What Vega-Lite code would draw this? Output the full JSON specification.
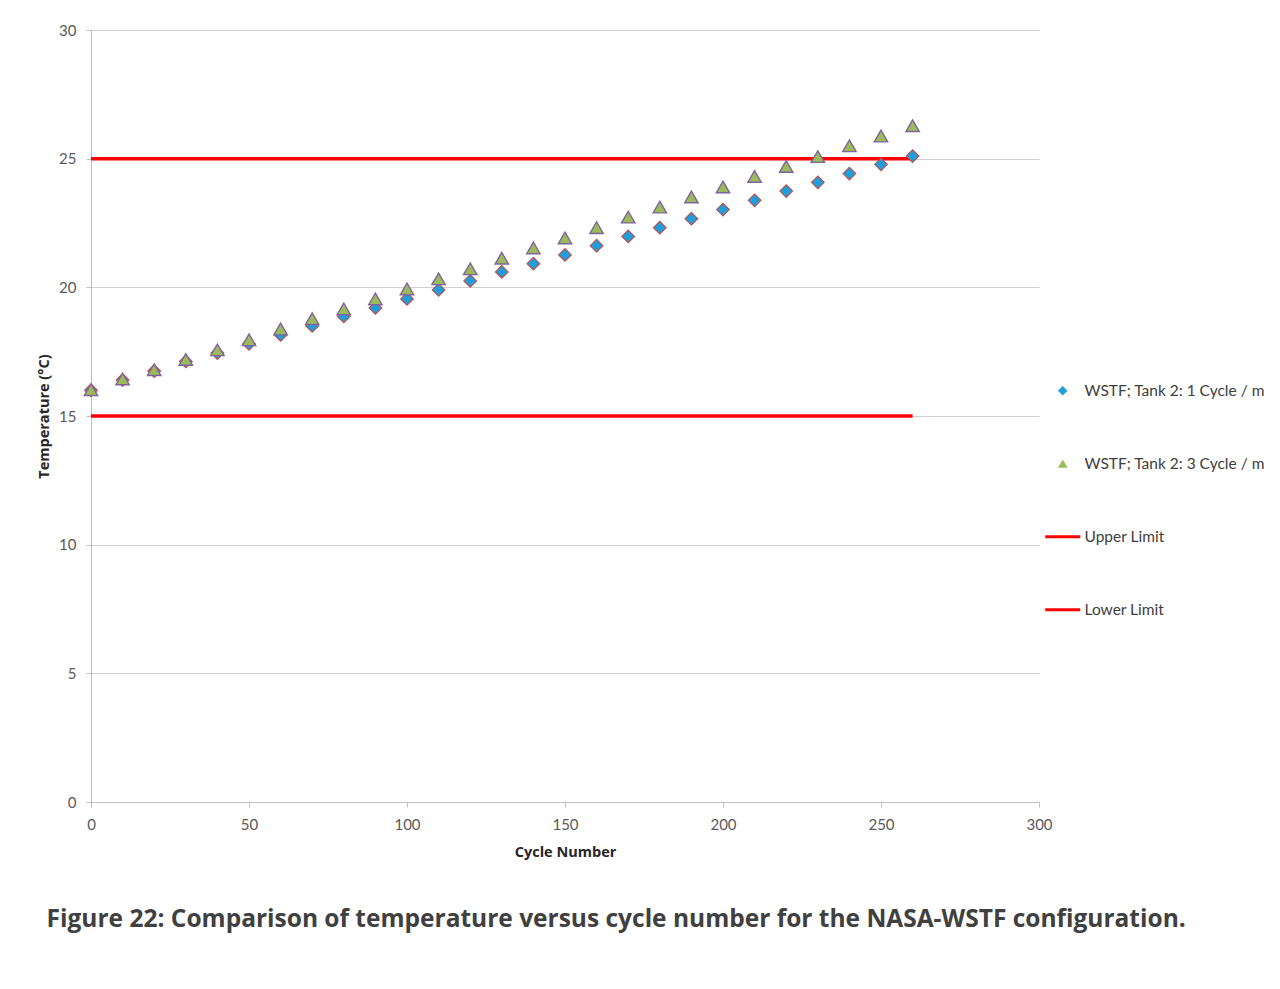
{
  "$schema": "https://vega.github.io/schema/vega-lite/v6.json",
  "autosize": "none",
  "width": 948,
  "height": 772,
  "padding": {"left": 91, "top": 30, "right": 241, "bottom": 187},
  "background": "white",
  "config": {"view": {"stroke": null}, "font": "Lato"},
  "title": {"text": "Figure 22: Comparison of temperature versus cycle number for the NASA-WSTF configuration.", "orient": "bottom", "anchor": "start", "dx": 10, "offset": 49, "fontSize": 24.5, "font": "Open Sans", "fontWeight": "bold", "color": "#404040"},
  "data": {"values": [
    {"series": "WSTF; Tank 2: 1 Cycle / m", "cycle": 0, "temp": 16.0},
    {"series": "WSTF; Tank 2: 1 Cycle / m", "cycle": 10, "temp": 16.4},
    {"series": "WSTF; Tank 2: 1 Cycle / m", "cycle": 20, "temp": 16.75},
    {"series": "WSTF; Tank 2: 1 Cycle / m", "cycle": 30, "temp": 17.12},
    {"series": "WSTF; Tank 2: 1 Cycle / m", "cycle": 40, "temp": 17.45},
    {"series": "WSTF; Tank 2: 1 Cycle / m", "cycle": 50, "temp": 17.8},
    {"series": "WSTF; Tank 2: 1 Cycle / m", "cycle": 60, "temp": 18.15},
    {"series": "WSTF; Tank 2: 1 Cycle / m", "cycle": 70, "temp": 18.5},
    {"series": "WSTF; Tank 2: 1 Cycle / m", "cycle": 80, "temp": 18.87},
    {"series": "WSTF; Tank 2: 1 Cycle / m", "cycle": 90, "temp": 19.2},
    {"series": "WSTF; Tank 2: 1 Cycle / m", "cycle": 100, "temp": 19.55},
    {"series": "WSTF; Tank 2: 1 Cycle / m", "cycle": 110, "temp": 19.9},
    {"series": "WSTF; Tank 2: 1 Cycle / m", "cycle": 120, "temp": 20.25},
    {"series": "WSTF; Tank 2: 1 Cycle / m", "cycle": 130, "temp": 20.6},
    {"series": "WSTF; Tank 2: 1 Cycle / m", "cycle": 140, "temp": 20.92},
    {"series": "WSTF; Tank 2: 1 Cycle / m", "cycle": 150, "temp": 21.26},
    {"series": "WSTF; Tank 2: 1 Cycle / m", "cycle": 160, "temp": 21.62},
    {"series": "WSTF; Tank 2: 1 Cycle / m", "cycle": 170, "temp": 21.98},
    {"series": "WSTF; Tank 2: 1 Cycle / m", "cycle": 180, "temp": 22.32},
    {"series": "WSTF; Tank 2: 1 Cycle / m", "cycle": 190, "temp": 22.67},
    {"series": "WSTF; Tank 2: 1 Cycle / m", "cycle": 200, "temp": 23.02},
    {"series": "WSTF; Tank 2: 1 Cycle / m", "cycle": 210, "temp": 23.38},
    {"series": "WSTF; Tank 2: 1 Cycle / m", "cycle": 220, "temp": 23.74},
    {"series": "WSTF; Tank 2: 1 Cycle / m", "cycle": 230, "temp": 24.08},
    {"series": "WSTF; Tank 2: 1 Cycle / m", "cycle": 240, "temp": 24.42},
    {"series": "WSTF; Tank 2: 1 Cycle / m", "cycle": 250, "temp": 24.78},
    {"series": "WSTF; Tank 2: 1 Cycle / m", "cycle": 260, "temp": 25.1},
    {"series": "WSTF; Tank 2: 3 Cycle / m", "cycle": 0, "temp": 16.02},
    {"series": "WSTF; Tank 2: 3 Cycle / m", "cycle": 10, "temp": 16.44},
    {"series": "WSTF; Tank 2: 3 Cycle / m", "cycle": 20, "temp": 16.8},
    {"series": "WSTF; Tank 2: 3 Cycle / m", "cycle": 30, "temp": 17.2},
    {"series": "WSTF; Tank 2: 3 Cycle / m", "cycle": 40, "temp": 17.57},
    {"series": "WSTF; Tank 2: 3 Cycle / m", "cycle": 50, "temp": 17.96},
    {"series": "WSTF; Tank 2: 3 Cycle / m", "cycle": 60, "temp": 18.38},
    {"series": "WSTF; Tank 2: 3 Cycle / m", "cycle": 70, "temp": 18.78},
    {"series": "WSTF; Tank 2: 3 Cycle / m", "cycle": 80, "temp": 19.16},
    {"series": "WSTF; Tank 2: 3 Cycle / m", "cycle": 90, "temp": 19.55},
    {"series": "WSTF; Tank 2: 3 Cycle / m", "cycle": 100, "temp": 19.94},
    {"series": "WSTF; Tank 2: 3 Cycle / m", "cycle": 110, "temp": 20.33},
    {"series": "WSTF; Tank 2: 3 Cycle / m", "cycle": 120, "temp": 20.72},
    {"series": "WSTF; Tank 2: 3 Cycle / m", "cycle": 130, "temp": 21.13},
    {"series": "WSTF; Tank 2: 3 Cycle / m", "cycle": 140, "temp": 21.53},
    {"series": "WSTF; Tank 2: 3 Cycle / m", "cycle": 150, "temp": 21.92},
    {"series": "WSTF; Tank 2: 3 Cycle / m", "cycle": 160, "temp": 22.32},
    {"series": "WSTF; Tank 2: 3 Cycle / m", "cycle": 170, "temp": 22.73},
    {"series": "WSTF; Tank 2: 3 Cycle / m", "cycle": 180, "temp": 23.12},
    {"series": "WSTF; Tank 2: 3 Cycle / m", "cycle": 190, "temp": 23.51},
    {"series": "WSTF; Tank 2: 3 Cycle / m", "cycle": 200, "temp": 23.9},
    {"series": "WSTF; Tank 2: 3 Cycle / m", "cycle": 210, "temp": 24.31},
    {"series": "WSTF; Tank 2: 3 Cycle / m", "cycle": 220, "temp": 24.7},
    {"series": "WSTF; Tank 2: 3 Cycle / m", "cycle": 230, "temp": 25.08},
    {"series": "WSTF; Tank 2: 3 Cycle / m", "cycle": 240, "temp": 25.5},
    {"series": "WSTF; Tank 2: 3 Cycle / m", "cycle": 250, "temp": 25.88},
    {"series": "WSTF; Tank 2: 3 Cycle / m", "cycle": 260, "temp": 26.28},
    {"series": "Upper Limit", "cycle": 0, "temp": 25},
    {"series": "Upper Limit", "cycle": 260, "temp": 25},
    {"series": "Lower Limit", "cycle": 0, "temp": 15},
    {"series": "Lower Limit", "cycle": 260, "temp": 15}
  ]},
  "encoding": {
    "x": {"field": "cycle", "type": "quantitative", "title": "Cycle Number",
      "scale": {"domain": [0, 300], "nice": false, "zero": false},
      "axis": {"values": [0, 50, 100, 150, 200, 250, 300], "grid": false, "labelFlush": false, "domainColor": "#bfbfbf", "tickColor": "#bfbfbf", "tickSize": 5, "labelPadding": 10, "labelFontSize": 15, "labelColor": "#595959", "labelFont": "Lato", "titleFont": "Open Sans", "titleFontSize": 14.5, "titleFontWeight": "bold", "titleColor": "#262626", "titlePadding": 13}},
    "y": {"field": "temp", "type": "quantitative", "title": "Temperature (°C)",
      "scale": {"domain": [0, 30], "nice": false},
      "axis": {"values": [0, 5, 10, 15, 20, 25, 30], "grid": true, "labelFlush": false, "gridColor": "#d0d0d0", "gridWidth": 1.2, "domainColor": "#bfbfbf", "tickColor": "#bfbfbf", "tickSize": 5, "labelPadding": 10, "labelFontSize": 15, "labelColor": "#595959", "labelFont": "Lato", "titleFont": "Open Sans", "titleFontSize": 14.5, "titleFontWeight": "bold", "titleColor": "#262626", "titlePadding": 7}},
    "color": {"field": "series", "type": "nominal", "title": null,
      "scale": {"domain": ["WSTF; Tank 2: 1 Cycle / m", "WSTF; Tank 2: 3 Cycle / m", "Upper Limit", "Lower Limit"], "range": ["#1e9fdc", "#9bbb59", "#ff0000", "#ff0000"]},
      "legend": {"orient": "none", "legendX": 964, "legendY": 353, "symbolSize": 1225, "labelFontSize": 15.5, "labelColor": "#404040", "labelFont": "Lato", "labelOffset": 14, "rowPadding": 56, "labelLimit": 300,
        "encode": {"symbols": {"update": {
          "shape": {"signal": "datum.value === 'Upper Limit' || datum.value === 'Lower Limit' ? 'stroke' : (datum.value === 'WSTF; Tank 2: 1 Cycle / m' ? 'diamond' : 'triangle-up')"},
          "size": {"signal": "datum.value === 'Upper Limit' || datum.value === 'Lower Limit' ? 1225 : 80"},
          "fill": {"signal": "datum.value === 'Upper Limit' || datum.value === 'Lower Limit' ? 'transparent' : (datum.value === 'WSTF; Tank 2: 1 Cycle / m' ? '#1e9fdc' : '#9bbb59')"},
          "stroke": {"signal": "datum.value === 'Upper Limit' || datum.value === 'Lower Limit' ? '#ff0000' : (datum.value === 'WSTF; Tank 2: 1 Cycle / m' ? '#1e9fdc' : '#8064a2')"},
          "strokeWidth": {"signal": "datum.value === 'Upper Limit' || datum.value === 'Lower Limit' ? 3 : 0.5"},
          "opacity": {"value": 1}
        }}}}
    }
  },
  "layer": [
    {"transform": [{"filter": "datum.series === 'Upper Limit' || datum.series === 'Lower Limit'"}],
     "mark": {"type": "line", "strokeWidth": 3.5}},
    {"transform": [{"filter": "datum.series === 'WSTF; Tank 2: 1 Cycle / m'"}],
     "mark": {"type": "point", "filled": true, "shape": "diamond", "size": 160, "stroke": "#c0504d", "strokeWidth": 1.2, "opacity": 1}},
    {"transform": [{"filter": "datum.series === 'WSTF; Tank 2: 3 Cycle / m'"}],
     "mark": {"type": "point", "filled": true, "shape": "triangle-up", "size": 180, "stroke": "#8064a2", "strokeWidth": 1.4, "opacity": 1}}
  ]
}
